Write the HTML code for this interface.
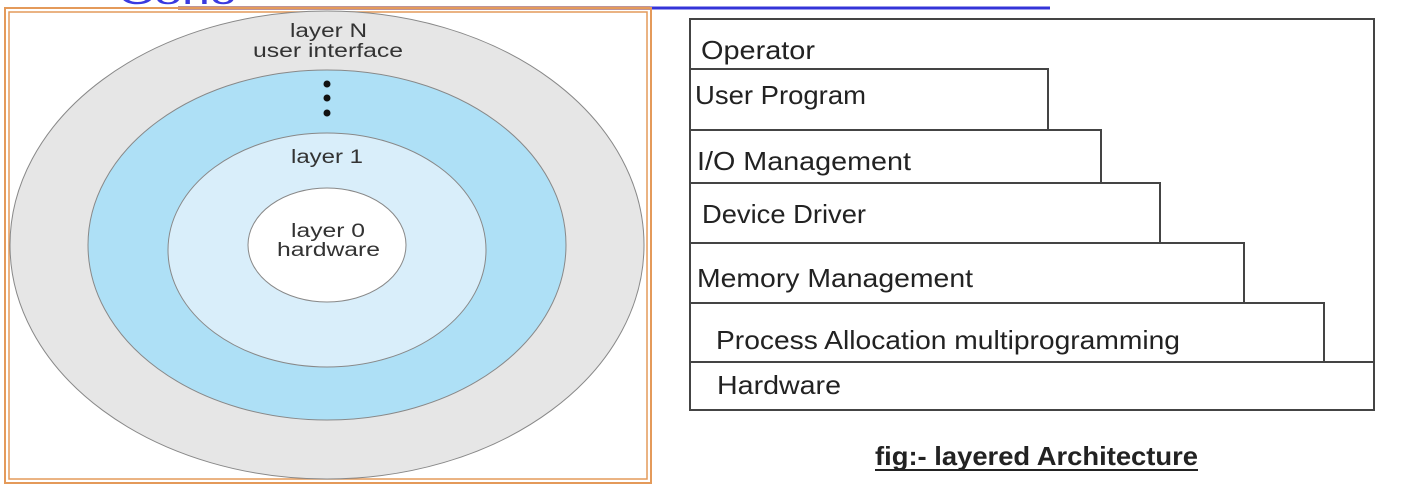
<!DOCTYPE html>
<html><head><meta charset="utf-8"><style>
html,body{margin:0;padding:0;background:#fff;width:1409px;height:496px;overflow:hidden}
</style></head><body>
<svg width="1409" height="496" viewBox="0 0 1409 496" xmlns="http://www.w3.org/2000/svg" font-family="Liberation Sans, sans-serif">
<rect width="1409" height="496" fill="#fff"/>
<text x="118" y="4" font-size="30" fill="#3a3ae0" textLength="117" lengthAdjust="spacingAndGlyphs">Conc</text>
<line x1="178" y1="8" x2="650" y2="8" stroke="#7a2a35" stroke-width="3"/>
<line x1="650" y1="8" x2="1050" y2="8" stroke="#3434d8" stroke-width="3"/>
<rect x="5" y="8" width="646" height="475" fill="none" stroke="#e49a5a" stroke-width="2"/>
<rect x="9" y="12" width="638" height="467" fill="none" stroke="#e49a5a" stroke-width="1.5"/>
<ellipse cx="327" cy="245" rx="317" ry="234" fill="#e6e6e6" stroke="#888" stroke-width="1"/>
<ellipse cx="327" cy="245" rx="239" ry="175" fill="#aee0f6" stroke="#888" stroke-width="1"/>
<ellipse cx="327" cy="250" rx="159" ry="117" fill="#d9eefa" stroke="#888" stroke-width="1"/>
<ellipse cx="327" cy="245" rx="79" ry="57" fill="#fff" stroke="#888" stroke-width="1"/>
<g font-size="19" fill="#333">
<text x="290" y="37" textLength="77" lengthAdjust="spacingAndGlyphs">layer N</text>
<text x="253" y="57" textLength="150" lengthAdjust="spacingAndGlyphs">user interface</text>
<text x="291" y="163" textLength="72" lengthAdjust="spacingAndGlyphs">layer 1</text>
<text x="291" y="237" textLength="74" lengthAdjust="spacingAndGlyphs">layer 0</text>
<text x="277" y="256" textLength="103" lengthAdjust="spacingAndGlyphs">hardware</text>
</g>
<circle cx="327" cy="84" r="3.5" fill="#111"/>
<circle cx="327" cy="98" r="3.5" fill="#111"/>
<circle cx="327" cy="113" r="3.5" fill="#111"/>
<g fill="none" stroke="#444" stroke-width="2">
<rect x="690" y="19" width="684" height="391"/>
<polyline points="690,69 1048,69 1048,130"/>
<polyline points="690,130 1101,130 1101,183"/>
<polyline points="690,183 1160,183 1160,243"/>
<polyline points="690,243 1244,243 1244,303"/>
<polyline points="690,303 1324,303 1324,362"/>
<line x1="690" y1="362" x2="1374" y2="362"/>
</g>
<g font-family="Liberation Sans Narrow, Liberation Sans, sans-serif" font-size="26" fill="#222">
<text x="701" y="59" textLength="114" lengthAdjust="spacingAndGlyphs">Operator</text>
<text x="695" y="104" textLength="171" lengthAdjust="spacingAndGlyphs">User Program</text>
<text x="697" y="170" textLength="214" lengthAdjust="spacingAndGlyphs">I/O Management</text>
<text x="702" y="223" textLength="164" lengthAdjust="spacingAndGlyphs">Device Driver</text>
<text x="697" y="287" textLength="276" lengthAdjust="spacingAndGlyphs">Memory Management</text>
<text x="716" y="349" textLength="464" lengthAdjust="spacingAndGlyphs">Process Allocation multiprogramming</text>
<text x="717" y="394" textLength="124" lengthAdjust="spacingAndGlyphs">Hardware</text>
<text x="875" y="465" font-weight="bold" textLength="323" lengthAdjust="spacingAndGlyphs">fig:- layered Architecture</text>
</g>
<line x1="875" y1="470" x2="1198" y2="470" stroke="#222" stroke-width="2"/>
</svg>
</body></html>
